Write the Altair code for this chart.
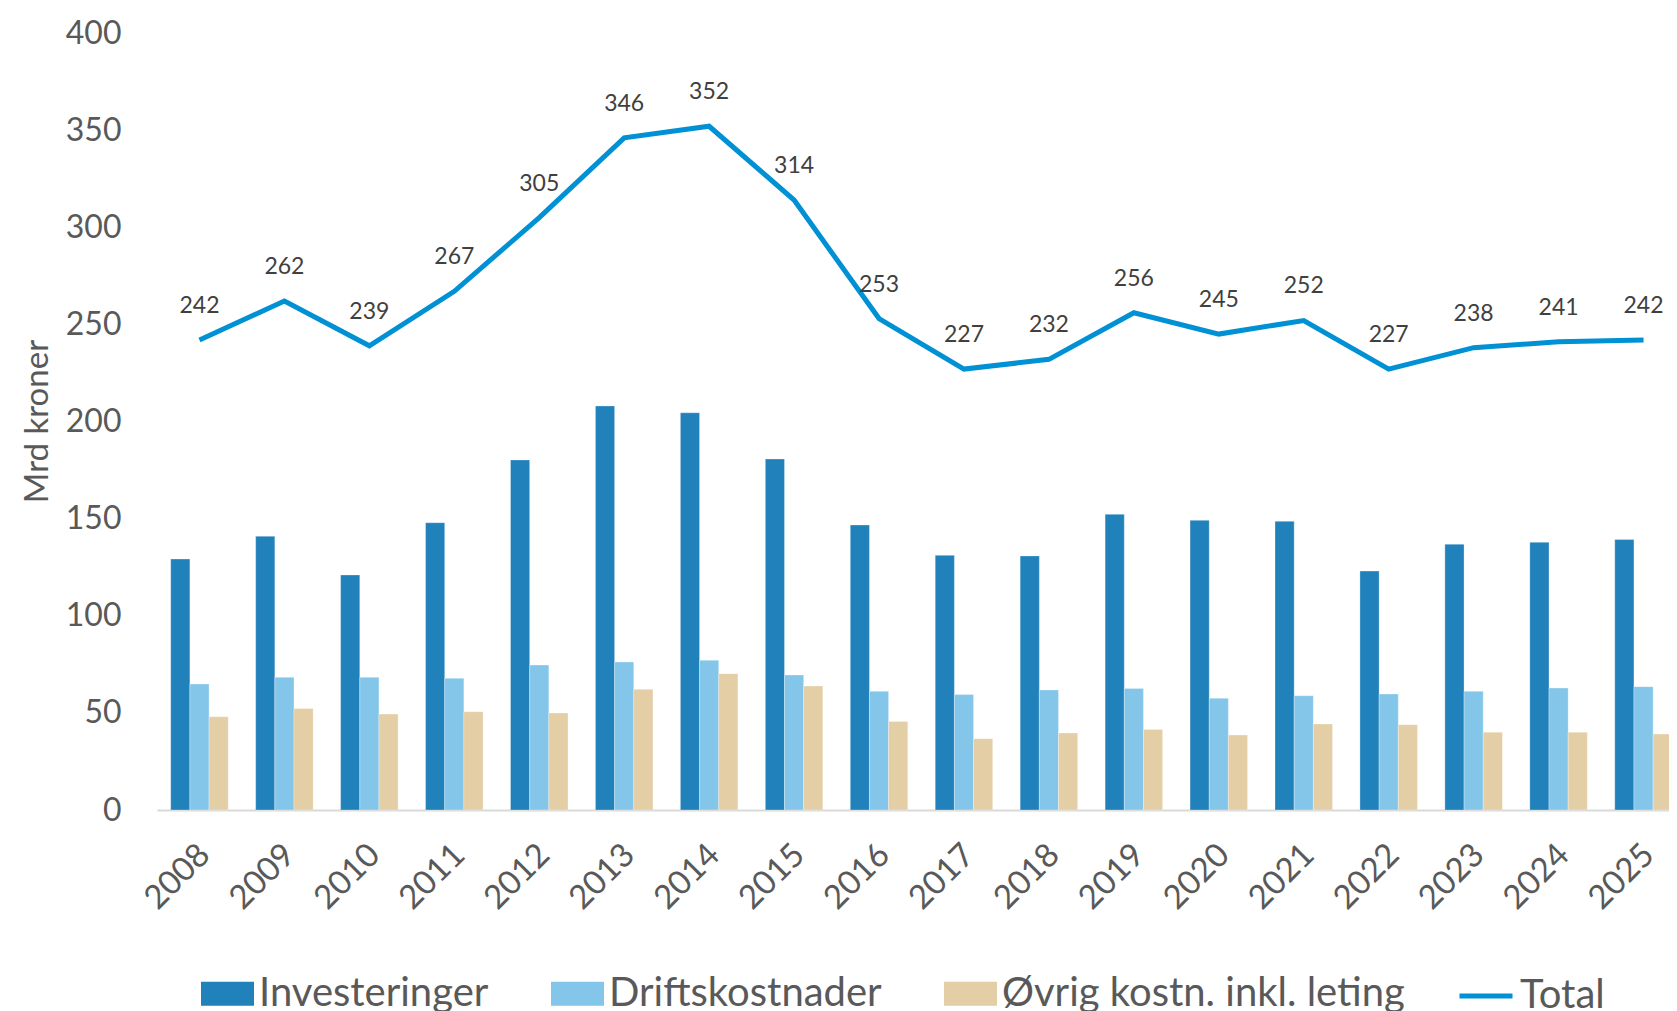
import altair as alt
import pandas as pd

years = ["2008", "2009", "2010", "2011", "2012", "2013", "2014", "2015", "2016",
         "2017", "2018", "2019", "2020", "2021", "2022", "2023", "2024", "2025"]
investeringer = [129.2, 140.9, 121.0, 147.9, 180.2, 208.0, 204.5, 180.7, 146.7,
                 131.1, 130.8, 152.2, 149.1, 148.6, 123.0, 136.8, 137.8, 139.2]
driftskostnader = [64.9, 68.3, 68.3, 67.8, 74.6, 76.2, 77.1, 69.5, 61.1,
                   59.4, 61.8, 62.6, 57.5, 58.8, 59.7, 61.1, 62.8, 63.5]
ovrig = [48.0, 52.3, 49.4, 50.6, 49.9, 62.1, 70.2, 63.8, 45.5,
         36.7, 39.6, 41.5, 38.6, 44.3, 43.9, 40.0, 40.0, 39.1]
total = [242, 262, 239, 267, 305, 346, 352, 314, 253,
         227, 232, 256, 245, 252, 227, 238, 241, 242]

series = ["Investeringer", "Driftskostnader", "Øvrig kostn. inkl. leting"]
bar_colors = ["#2181BB", "#84C6E9", "#E3CEA5"]
line_color = "#0091D5"
y_ticks = [0, 50, 100, 150, 200, 250, 300, 350, 400]

FONT = "Lato"

rows = []
for name, vals in zip(series, [investeringer, driftskostnader, ovrig]):
    for yr, v in zip(years, vals):
        rows.append({"year": yr, "series": name, "value": v})
bars_df = pd.DataFrame(rows)
line_df = pd.DataFrame({"year": years, "total": total, "name": ["Total"] * len(years)})

x_scale = alt.Scale(range=[0, 1529], paddingInner=0.323, paddingOuter=0.1615)
y_scale = alt.Scale(domain=[0, 400], nice=False)

x_axis = alt.Axis(title=None, labelAngle=-45, labelFont=FONT, labelFontSize=33,
                  labelColor="#595959", ticks=False, tickSize=0, labelPadding=28,
                  labelOffset=-6,
                  domainColor="#D9D9D9", domainWidth=2, grid=False)
y_axis = alt.Axis(title="Mrd kroner", values=y_ticks, labelFont=FONT, labelFontSize=32,
                  labelColor="#595959", ticks=False, tickSize=0, labelPadding=36,
                  domain=False, grid=False,
                  titleFont=FONT, titleFontSize=33, titleFontWeight="normal",
                  titleColor="#595959", titleAngle=-90, titleAlign="center",
                  titleBaseline="middle", titleX=-120, titleY=388)

bars = alt.Chart(bars_df).mark_bar(stroke="white", strokeWidth=0.5, strokeOpacity=0.6).encode(
    x=alt.X("year:N", sort=years, scale=x_scale, axis=x_axis),
    xOffset=alt.XOffset("series:N", sort=series,
                        scale=alt.Scale(domain=series, paddingInner=0, paddingOuter=0)),
    y=alt.Y("value:Q", scale=y_scale, axis=y_axis),
    color=alt.Color("series:N", sort=series,
                    scale=alt.Scale(domain=series, range=bar_colors),
                    legend=alt.Legend(orient="none", legendX=44, legendY=934, direction="horizontal",
                                      title=None, padding=0,
                                      symbolType="M-1,-0.453L1,-0.453L1,0.453L-1,0.453Z",
                                      symbolSize=2809, symbolStrokeWidth=0, symbolOpacity=1,
                                      labelFont=FONT, labelFontSize=40, labelColor="#595959",
                                      labelOffset=5, columnPadding=62, labelLimit=600)),
)

line = alt.Chart(line_df).mark_line(strokeWidth=5).encode(
    x=alt.X("year:N", sort=years, scale=x_scale, axis=x_axis),
    y=alt.Y("total:Q", scale=y_scale, axis=y_axis),
    stroke=alt.Stroke("name:N", scale=alt.Scale(domain=["Total"], range=[line_color]),
                      legend=alt.Legend(orient="none", legendX=1300, legendY=934, title=None,
                                        padding=0, symbolType="stroke", symbolSize=2809,
                                        symbolStrokeWidth=5,
                                        labelFont=FONT, labelFontSize=40, labelColor="#595959",
                                        labelOffset=5, labelLimit=600)),
)

labels = alt.Chart(line_df).mark_text(font=FONT, fontSize=23, color="#404040",
                                      baseline="middle", dy=-34).encode(
    x=alt.X("year:N", sort=years, scale=x_scale, axis=x_axis),
    y=alt.Y("total:Q", scale=y_scale, axis=y_axis),
    text=alt.Text("total:Q", format="d"),
)

chart = alt.layer(bars, line, labels).properties(
    width=1512, height=777,
    autosize=alt.AutoSizeParams(type="none"),
    padding={"left": 149, "top": 25, "right": 0, "bottom": 201},
    background="white",
).configure_view(stroke=None)

chart.save("out.html", embed_options={"renderer": "svg", "actions": False})
